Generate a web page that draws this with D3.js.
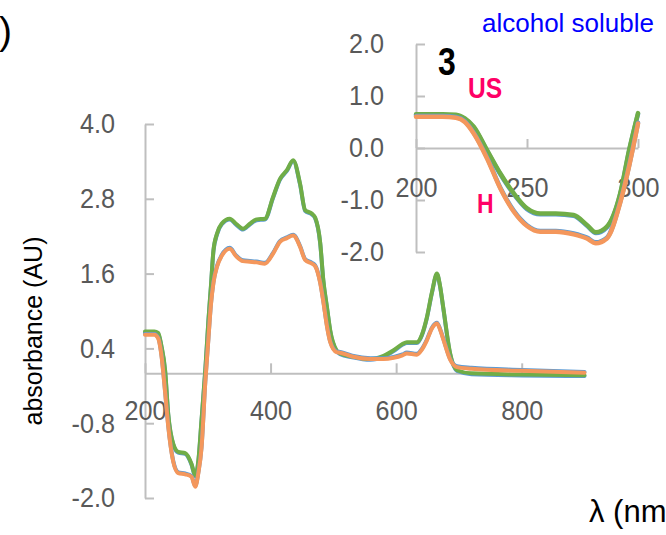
<!DOCTYPE html>
<html>
<head>
<meta charset="utf-8">
<script src="https://cdn.jsdelivr.net/npm/d3@7"></script>
<style>
  html, body { margin: 0; padding: 0; background: #fff; overflow: hidden; }
  svg { display: block; }
  text { font-family: "Liberation Sans", Arial, sans-serif; }
</style>
</head>
<body>
<div id="chart"></div>
<script>
// ---------- data (main chart) ----------
const mainLambda = [200, 215, 221, 226, 232, 237, 245, 253, 264, 274, 280, 285, 290, 296, 301, 305, 309, 315, 322, 335, 345, 356, 367, 378, 391, 404, 415, 426, 436, 447, 455, 466, 471, 479, 484, 490, 495, 505, 511, 530, 559, 580, 596, 610, 617, 633, 641, 649, 657, 665, 670, 675, 686, 697, 720, 800, 900];
const mainGreen = [0.67, 0.67, 0.65, 0.45, 0.05, -0.65, -1.13, -1.26, -1.28, -1.45, -1.64, -1.40, -0.75, 0.05, 0.85, 1.40, 1.97, 2.25, 2.40, 2.48, 2.40, 2.32, 2.40, 2.47, 2.48, 2.83, 3.12, 3.26, 3.42, 3.04, 2.62, 2.56, 2.50, 2.10, 1.50, 1.05, 0.69, 0.37, 0.32, 0.27, 0.23, 0.28, 0.37, 0.47, 0.50, 0.50, 0.62, 0.90, 1.30, 1.60, 1.40, 1.06, 0.32, 0.05, 0.00, -0.02, -0.03];
const mainOrange = [0.62, 0.62, 0.56, 0.30, -0.30, -0.85, -1.42, -1.60, -1.62, -1.66, -1.82, -1.60, -1.20, -0.15, 0.55, 1.10, 1.45, 1.72, 1.88, 2.00, 1.88, 1.80, 1.79, 1.78, 1.76, 1.92, 2.11, 2.17, 2.21, 2.03, 1.82, 1.76, 1.72, 1.45, 1.15, 0.74, 0.50, 0.34, 0.33, 0.27, 0.23, 0.23, 0.25, 0.29, 0.32, 0.30, 0.38, 0.53, 0.72, 0.80, 0.70, 0.55, 0.22, 0.10, 0.075, 0.04, 0.01];
const mainYTicks = [4.0, 2.8, 1.6, 0.4, -0.8, -2.0];
const mainXTicks = [200, 400, 600, 800];

// ---------- data (inset) ----------
const insetLambda = [200, 212, 218, 222, 226, 232, 238, 244, 250, 256, 263, 271, 277, 281, 286, 292, 296, 300];
const insetGreen = [0.65, 0.65, 0.64, 0.57, 0.41, -0.04, -0.49, -0.87, -1.16, -1.26, -1.26, -1.29, -1.48, -1.62, -1.51, -0.87, -0.04, 0.67];
const insetOrange = [0.60, 0.60, 0.58, 0.50, 0.28, -0.20, -0.78, -1.22, -1.50, -1.61, -1.61, -1.66, -1.74, -1.83, -1.74, -1.05, -0.35, 0.47];
const insetYTicks = [2.0, 1.0, 0.0, -1.0, -2.0];
const insetXTicks = [200, 250, 300];

// ---------- texts ----------
const yAxisTitle = "absorbance (AU)";
const xAxisTitle = "λ (nm)";
const panelText = ")";
const insetTitle = "alcohol soluble";
const insetNumber = "3";
const labelUS = "US";
const labelH = "H";

// ---------- styles ----------
const GREEN = "#70ad47", ORANGE = "#f4975c", BLUE = "#5b9bd5";
const AXIS = "#bfbfbf", TICKTXT = "#595959";

const W = 666, H = 535;
const svg = d3.select("#chart").append("svg").attr("width", W).attr("height", H);

function styleAxis(g, fs, orient) {
  g.select(".domain").attr("stroke", AXIS).attr("stroke-width", 2);
  g.selectAll(".tick line").attr("stroke", AXIS).attr("stroke-width", 2);
  g.selectAll(".tick text").attr("fill", TICKTXT)
    .attr("font-size", fs).attr("font-family", "Liberation Sans, Arial, sans-serif")
    .each(function () {
      const t = d3.select(this);
      if (orient === "left") {
        const x = +t.attr("x");
        t.attr("x", 0).attr("transform", `translate(${x},0) scale(0.9,1)`);
      } else {
        t.attr("transform", "scale(0.9,1)");
      }
    });
}
const fmt = d => d.toFixed(1);

// ---------- main chart ----------
const xMain = d3.scaleLinear().domain([200, 900]).range([145, 584.5]);
const yMain = d3.scaleLinear().domain([-2, 4]).range([498, 124]);

const gMain = svg.append("g");
gMain.append("g").attr("transform", `translate(${xMain(200)},0)`)
  .call(d3.axisLeft(yMain).tickValues(mainYTicks).tickFormat(fmt)
    .tickSizeInner(-9).tickSizeOuter(0).tickPadding(30))
  .call(g => styleAxis(g, 28, "left"));
gMain.append("g").attr("transform", `translate(0,${yMain(0)})`)
  .call(d3.axisBottom(xMain).tickValues(mainXTicks).tickFormat(d3.format("d"))
    .tickSizeInner(-10).tickSizeOuter(0).tickPadding(27))
  .call(g => styleAxis(g, 28, "bottom"));

const lineMain = d3.line().x(d => xMain(d[0])).y(d => yMain(d[1])).curve(d3.curveMonotoneX);
const mg = mainLambda.map((l, i) => [l, mainGreen[i]]);
const mo = mainLambda.map((l, i) => [l, mainOrange[i]]);
const seriesMain = [
  { data: mg, color: BLUE, w: 4, dy: 0.8 },
  { data: mg, color: GREEN, w: 4, dy: 0 },
  { data: mo, color: BLUE, w: 4, dy: -0.8 },
  { data: mo, color: ORANGE, w: 4, dy: 0 }
];
gMain.selectAll("path.series").data(seriesMain).join("path")
  .attr("class", "series")
  .attr("transform", d => `translate(0,${d.dy})`)
  .attr("d", d => lineMain(d.data))
  .attr("fill", "none").attr("stroke", d => d.color).attr("stroke-width", d => d.w)
  .attr("stroke-linejoin", "round").attr("stroke-linecap", "round");

// ---------- inset ----------
const xIn = d3.scaleLinear().domain([200, 300]).range([416, 638]);
const yIn = d3.scaleLinear().domain([-2, 2]).range([252, 44]);
const gIn = svg.append("g");
gIn.append("g").attr("transform", `translate(${xIn(200)},0)`)
  .call(d3.axisLeft(yIn).tickValues(insetYTicks).tickFormat(fmt)
    .tickSizeInner(-9).tickSizeOuter(0).tickPadding(32))
  .call(g => styleAxis(g, 28, "left"));
gIn.append("g").attr("transform", `translate(0,${yIn(0)})`)
  .call(d3.axisBottom(xIn).tickValues(insetXTicks).tickFormat(d3.format("d"))
    .tickSizeInner(-9).tickSizeOuter(0).tickPadding(29))
  .call(g => styleAxis(g, 28, "bottom"));

const lineIn = d3.line().x(d => xIn(d[0])).y(d => yIn(d[1])).curve(d3.curveMonotoneX);
const ig = insetLambda.map((l, i) => [l, insetGreen[i]]);
const io = insetLambda.map((l, i) => [l, insetOrange[i]]);
const seriesIn = [
  { data: ig, color: BLUE, w: 4.5, dy: 0.8 },
  { data: ig, color: GREEN, w: 4.5, dy: 0 },
  { data: io, color: BLUE, w: 4.5, dy: -0.8 },
  { data: io, color: ORANGE, w: 4.5, dy: 0 }
];
gIn.selectAll("path.series").data(seriesIn).join("path")
  .attr("class", "series")
  .attr("transform", d => `translate(0,${d.dy})`)
  .attr("d", d => lineIn(d.data))
  .attr("fill", "none").attr("stroke", d => d.color).attr("stroke-width", d => d.w)
  .attr("stroke-linejoin", "round").attr("stroke-linecap", "round");

// ---------- texts ----------
svg.append("text").attr("x", -1).attr("y", 44).attr("font-size", 39).attr("fill", "#000").text(panelText);

svg.append("text").attr("transform", "translate(42,331) rotate(-90)")
  .attr("text-anchor", "middle").attr("font-size", 25).attr("fill", "#000").text(yAxisTitle);

svg.append("text").attr("x", 589).attr("y", 522).attr("font-size", 31).attr("fill", "#000").text(xAxisTitle);

svg.append("text").attr("x", 482).attr("y", 32).attr("font-size", 26).attr("fill", "#0000ff").text(insetTitle);

function narrowBold(txt, x, y, fs, color) {
  svg.append("text").attr("transform", `translate(${x},${y}) scale(0.82,1)`)
    .attr("font-size", fs).attr("font-weight", "bold").attr("fill", color).text(txt);
}
narrowBold(insetNumber, 438, 75, 39, "#000");
narrowBold(labelUS, 468, 98, 30, "#ff0066");
narrowBold(labelH, 477, 213, 28, "#ff0066");
</script>
</body>
</html>
